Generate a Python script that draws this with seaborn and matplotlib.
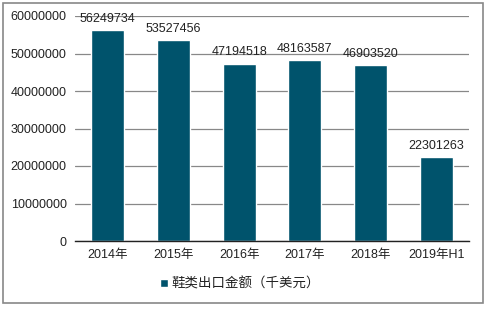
import matplotlib
matplotlib.use("Agg")
import matplotlib.pyplot as plt
import seaborn as sns
import pandas as pd
from matplotlib.patches import Rectangle

categories = ["2014年", "2015年", "2016年", "2017年", "2018年", "2019年H1"]
values = [56249734, 53527456, 47194518, 48163587, 46903520, 22301263]
series_name = "鞋类出口金额（千美元）"
yticks = [0, 10000000, 20000000, 30000000, 40000000, 50000000, 60000000]

sns.set_style("white")
plt.rcParams['font.family'] = ['Liberation Sans', 'Noto Sans CJK SC', 'DejaVu Sans']

color = "#00536c"
df = pd.DataFrame({"year": categories, "value": values})

fig = plt.figure(figsize=(4.85, 3.09), dpi=100)
ax = fig.add_axes([75/485, 1 - 241/309, (469-75)/485, (241-16)/309])

sns.barplot(data=df, x="year", y="value", color=color, width=0.5, ax=ax,
            saturation=1, label=series_name)

ax.set_ylim(0, 60000000)
ax.set_xlim(-0.5, 5.5)
ax.set_yticks(yticks)
ax.set_yticklabels([str(v) for v in yticks], fontsize=9, color="#222222")
ax.tick_params(axis='x', labelsize=9, colors="#222222", length=0, pad=6)
ax.tick_params(axis='y', length=0, pad=6)
ax.set_xlabel("")
ax.set_ylabel("")
ax.grid(axis='y', color="#888888", linewidth=0.9)
ax.set_axisbelow(True)
for s in ["left", "right", "top"]:
    ax.spines[s].set_visible(False)
ax.spines["bottom"].set_color("#222222")
ax.spines["bottom"].set_linewidth(1.0)

for i, v in enumerate(values):
    ax.annotate(str(v), (i, v), xytext=(0, 4), textcoords="offset points",
                ha="center", va="bottom", fontsize=9, color="#222222")

leg = ax.legend(loc="center", bbox_to_anchor=(240/485, 1 - 284/309),
                bbox_transform=fig.transFigure, frameon=False,
                fontsize=9.7, handlelength=0.6, handleheight=0.6, handletextpad=0.2)
for t in leg.get_texts():
    t.set_color("#222222")

fig.patches.append(Rectangle((3/485, 6/309), 480/485, 300/309, transform=fig.transFigure,
                             fill=False, edgecolor="#888888", linewidth=1.2))

fig.savefig("out.png", dpi=100)
